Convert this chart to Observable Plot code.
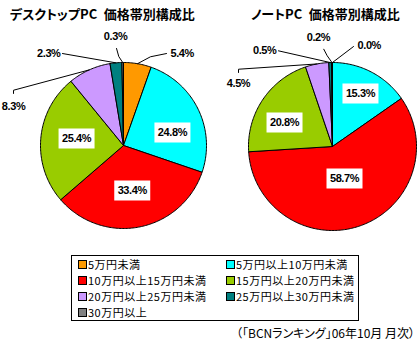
<!DOCTYPE html>
<html><head><meta charset="utf-8">
<script src="https://cdn.jsdelivr.net/npm/d3@7"></script>
<script src="https://cdn.jsdelivr.net/npm/@observablehq/plot@0.6"></script>
<style>
body{margin:0;background:#fff;}
#root{position:relative;width:420px;height:352px;overflow:hidden;font-family:"Noto Sans CJK JP",sans-serif;color:#000;}
.title{position:absolute;top:4px;font-weight:bold;font-size:13px;line-height:20px;white-space:nowrap;font-feature-settings:"palt";}
.pie{position:absolute;top:0;}
.pie svg text{letter-spacing:-0.4px;}
#legend{position:absolute;left:71px;top:255px;width:280px;height:64px;border:1px solid #000;font-size:11px;line-height:16px;letter-spacing:0.5px;display:grid;grid-template-columns:148px 130px;grid-auto-rows:16px;padding-left:6px;box-sizing:content-box;}
#legend div{white-space:nowrap;display:flex;align-items:center;height:16px;}
#legend span.sw{display:inline-block;width:7px;height:7px;border:1px solid #000;margin-right:1px;flex:none;}
#caption{position:absolute;right:5px;top:325px;font-size:12px;line-height:16px;white-space:nowrap;font-feature-settings:"palt";}
</style></head>
<body><div id="root"></div>
<script>
// ---- data ----
const categories = ["5万円未満","5万円以上10万円未満","10万円以上15万円未満","15万円以上20万円未満","20万円以上25万円未満","25万円以上30万円未満","30万円以上"];
const colors = ["#FF9900","#00FFFF","#FF0000","#99CC00","#CC99FF","#008080","#808080"];
const desktopValues = [5.4, 24.8, 33.4, 25.4, 8.3, 2.3, 0.3];
const notebookValues = [0.0, 15.3, 58.7, 20.8, 4.5, 0.5, 0.2];
const titles = ["デスクトップPC\u2002価格帯別構成比", "ノートPC\u2002価格帯別構成比"];
const caption = "（「BCNランキング」06年10月 月次）";

// ---- label layout (in pie-radius units, relative to pie centre) ----
const desktopLabelLayout = [
  {mode:"out", tx:0.566, ty:1.108, anchor:"start", path:[[0.518,1.108],[0.325,1.069]]},
  {mode:"in", k:0.61, da:11},
  {mode:"in", k:0.553, da:0},
  {mode:"in", k:0.572, da:3.6},
  {mode:"out", tx:-1.325, ty:0.47, anchor:"middle", path:[[-1.325,0.627],[-1.325,0.666]]},
  {mode:"out", tx:-0.759, ty:1.108, anchor:"end", path:[[-0.735,1.108]]},
  {mode:"out", tx:-0.096, ty:1.313, anchor:"middle", path:[[-0.084,1.169],[-0.057,1.072]]}
];
const notebookLabelLayout = [
  {mode:"out", tx:0.298, ty:1.202, anchor:"start", path:[[0.25,1.19]]},
  {mode:"in", k:0.713, da:0.3},
  {mode:"in", k:0.407, da:-1.3},
  {mode:"in", k:0.639, da:-7.2},
  {mode:"out", tx:-1.119, ty:0.75, anchor:"middle", path:[[-1.119,0.881],[-1.119,0.92]]},
  {mode:"out", tx:-0.667, ty:1.143, anchor:"end", path:[[-0.643,1.139]]},
  {mode:"out", tx:-0.167, ty:1.298, anchor:"middle", path:[[-0.104,1.158],[-0.063,1.08]]}
];

const boxSymbol = {draw(ctx){ ctx.rect(-18, -10, 36, 20); }};
const numFont = "'Liberation Sans', Arial, sans-serif";

function pieChart(values, layout, cx, cy, R, W, H) {
  const arcs = d3.pie().sort(null).value(d => d)(values);
  const slices = [], leaders = [], labels = [];
  arcs.forEach((a, i) => {
    const cat = categories[i];
    const n = Math.max(1, Math.ceil((a.endAngle - a.startAngle) / (Math.PI / 180)));
    slices.push({cat, x: 0, y: 0});
    for (let k = 0; k <= n; k++) {
      const t = a.startAngle + (a.endAngle - a.startAngle) * k / n;
      slices.push({cat, x: Math.sin(t), y: Math.cos(t)});
    }
    slices.push({cat, x: 0, y: 0});
    const mid = (a.startAngle + a.endAngle) / 2;
    const L = layout[i];
    const text = values[i].toFixed(1) + "%";
    if (L.mode === "in") {
      const t = mid + L.da * Math.PI / 180;
      labels.push({text, x: L.k * Math.sin(t), y: L.k * Math.cos(t), anchor: "middle", inside: true});
    } else {
      labels.push({text, x: L.tx, y: L.ty, anchor: L.anchor, inside: false});
      L.path.forEach(p => leaders.push({id: i, x: p[0], y: p[1]}));
      leaders.push({id: i, x: Math.sin(mid), y: Math.cos(mid)});
    }
  });
  const textOpts = a => ({
    filter: d => d.anchor === a, x: "x", y: "y", text: "text", textAnchor: a,
    fontWeight: "bold", fontSize: 11, fontFamily: numFont, fill: "black"
  });
  return Plot.plot({
    width: W, height: H, margin: 0,
    x: {domain: [-cx / R, (W - cx) / R], axis: null},
    y: {domain: [-(H - cy) / R, cy / R], axis: null},
    color: {domain: categories, range: colors},
    style: {background: "transparent", overflow: "visible"},
    marks: [
      Plot.line(slices, {x: "x", y: "y", z: "cat", fill: "cat", stroke: "black", strokeWidth: 1, strokeLinejoin: "miter"}),
      Plot.line(leaders, {x: "x", y: "y", z: "id", stroke: "black", strokeWidth: 1}),
      Plot.dot(labels.filter(d => d.inside), {x: "x", y: "y", symbol: boxSymbol, fill: "white", stroke: "none"}),
      Plot.text(labels, textOpts("middle")),
      Plot.text(labels, textOpts("start")),
      Plot.text(labels, textOpts("end"))
    ]
  });
}

const root = document.getElementById("root");
const H = 250;
const p1 = pieChart(desktopValues, desktopLabelLayout, 123, 145, 83, 210, H);
const w1 = document.createElement("div"); w1.className = "pie"; w1.style.left = "0px"; w1.appendChild(p1); root.appendChild(w1);
const p2 = pieChart(notebookValues, notebookLabelLayout, 122, 146, 84, 210, H);
const w2 = document.createElement("div"); w2.className = "pie"; w2.style.left = "210px"; w2.appendChild(p2); root.appendChild(w2);

[[titles[0], 10], [titles[1], 251]].forEach(([t, left]) => {
  const d = document.createElement("div"); d.className = "title"; d.style.left = left + "px"; d.textContent = t; root.appendChild(d);
});

const lg = document.createElement("div"); lg.id = "legend";
categories.forEach((c, i) => {
  const row = document.createElement("div");
  const sw = document.createElement("span"); sw.className = "sw"; sw.style.background = colors[i];
  row.appendChild(sw); row.appendChild(document.createTextNode(c)); lg.appendChild(row);
});
root.appendChild(lg);

const cap = document.createElement("div"); cap.id = "caption"; cap.textContent = caption; root.appendChild(cap);
</script>
</body></html>
